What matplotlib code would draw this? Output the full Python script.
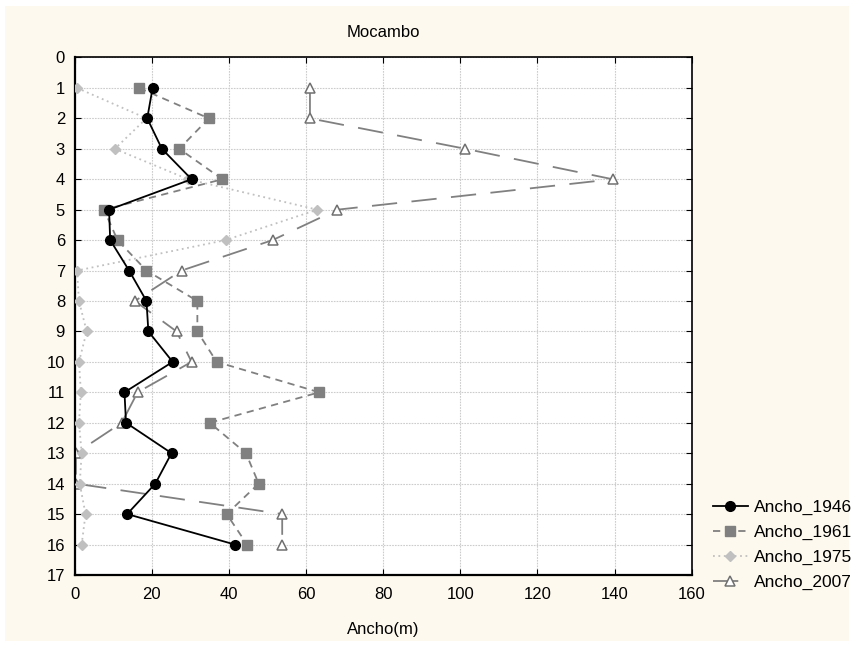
#!/usr/bin/env python3
"""Mocambo: channel width (Ancho) per section for four survey years."""

import matplotlib.pyplot as plt
from matplotlib.patches import Rectangle

seccion = list(range(1, 17))
ancho_1946 = [20.2, 18.8, 22.6, 30.3, 8.9, 9.2, 14.1, 18.6, 19.1, 25.4, 12.9, 13.3, 25.1, 20.9, 13.6, 41.5]
ancho_1961 = [16.7, 34.8, 27.1, 38.3, 7.6, 11.1, 18.6, 31.8, 31.8, 36.8, 63.4, 35.0, 44.4, 47.7, 39.4, 44.7]
ancho_1975 = [0.6, 18.6, 10.4, 29.4, 62.9, 39.1, 0.6, 1.1, 3.1, 1.1, 1.6, 1.1, 1.8, 1.3, 2.8, 1.8]
ancho_2007 = [61.0, 61.0, 101.3, 139.5, 68.1, 51.3, 27.7, 15.6, 26.4, 30.3, 16.3, 12.2, 0.3, 0.3, 53.8, 53.8]

plt.rcParams["font.family"] = ["Liberation Sans", "DejaVu Sans"]

fig = plt.figure(figsize=(8.54, 6.46), dpi=100, facecolor="white")
fig.patches.append(Rectangle((5 / 854, 5 / 646), 844 / 854, 635 / 646,
                             transform=fig.transFigure, facecolor="#fdf9ee",
                             edgecolor="none", zorder=-10))
ax = fig.add_axes([0.0875, 0.110, 0.7225, 0.801])
ax.set_facecolor("white")

ax.plot(ancho_1946, seccion, color="black", lw=1.3, marker="o", ms=7,
        label="Ancho_1946", zorder=5)
ax.plot(ancho_1961, seccion, color="#808080", lw=1.3, ls=(0, (4, 3)),
        marker="s", ms=7, label="Ancho_1961", zorder=4)
ax.plot(ancho_1975, seccion, color="#c0c0c0", lw=1.3, ls=(0, (1, 2)),
        marker="D", ms=5.5, label="Ancho_1975", zorder=3)
ax.plot(ancho_2007, seccion, color="#808080", lw=1.3, ls=(0, (14, 8)),
        marker="^", ms=7, mfc="white", mec="#707070", mew=1.1,
        label="Ancho_2007", zorder=2)

ax.set_xlim(0, 160)
ax.set_ylim(17, 0)
ax.set_xticks(range(0, 161, 20))
ax.set_yticks(range(0, 18))
ax.grid(True, color="#cccccc", ls=(0, (1.5, 1)), lw=0.8)
ax.tick_params(direction="in", top=True, right=True, length=4,
               labelsize=12, pad=7, colors="black")
ax.tick_params(axis="x", pad=9)
for side in ["left", "bottom"]:
    ax.spines[side].set_linewidth(1.6)
for side in ["top", "right"]:
    ax.spines[side].set_linewidth(1.2)

ax.set_title("Mocambo", fontsize=12, pad=15)
ax.set_xlabel("Ancho(m)", fontsize=12, labelpad=14)

ax.legend(loc="center left", frameon=False, fontsize=12.5,
          handlelength=2.0, handletextpad=0.35, labelspacing=0.55,
          borderpad=0.0, borderaxespad=0.0,
          bbox_to_anchor=(713 / 854, 101 / 646),
          bbox_transform=fig.transFigure)

fig.savefig("out.png", dpi=100, facecolor=fig.get_facecolor())
